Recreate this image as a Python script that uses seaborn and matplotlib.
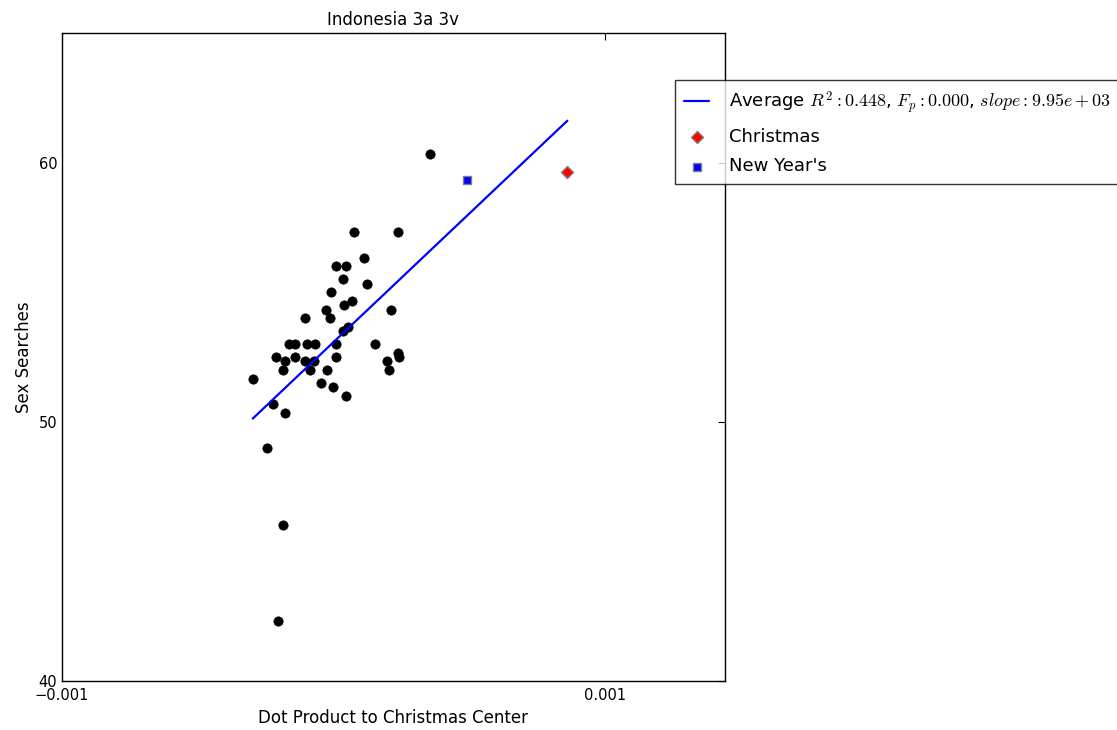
import numpy as np
import pandas as pd
import seaborn as sns
import matplotlib
matplotlib.use("Agg")
import matplotlib.pyplot as plt

sns.set_style("white")
plt.rcParams['font.family'] = ['DejaVu Sans']
plt.rcParams['mathtext.fontset'] = 'cm'
for k in ['text.color', 'axes.labelcolor', 'xtick.color', 'ytick.color']:
    plt.rcParams[k] = 'black'

# dot product to christmas center (x 1e-3) and sex searches, one point per week
dot_e3 = [0.355, 0.076, 0.238, 0.110, 0.009, 0.046, 0.036, 0.123, -0.010, 0.068,
          0.039, -0.030, 0.211, -0.104, -0.013, 0.051, 0.036, -0.165, -0.141, -0.099,
          -0.069, 0.007, 0.152, -0.212, -0.141, 0.009, 0.235, 0.240, -0.178, -0.104,
          -0.072, 0.196, -0.187, -0.089, -0.023, 0.203, -0.298, -0.045, -0.001, 0.046,
          -0.224, -0.178, -0.245, -0.186, -0.204]
searches = [60.33, 57.33, 57.33, 56.33, 56.0, 56.0, 55.5, 55.33, 55.0, 54.67,
            54.5, 54.33, 54.33, 54.0, 54.0, 53.67, 53.5, 53.0, 53.0, 53.0,
            53.0, 53.0, 53.0, 52.5, 52.5, 52.5, 52.67, 52.5, 52.33, 52.33,
            52.33, 52.33, 52.0, 52.0, 52.0, 52.0, 51.67, 51.5, 51.33, 51.0,
            50.67, 50.33, 49.0, 46.0, 42.33]

# holidays
xmas_x, xmas_y = 0.860e-3, 59.65
newyear_x, newyear_y = 0.491e-3, 59.31

fit_label = r"Average $R^2: 0.448$, $F_p: 0.000$, $slope: 9.95e+03$"

df = pd.DataFrame({"dot": np.array(dot_e3) * 1e-3, "searches": searches})

# regression over all weeks incl. holidays
all_x = np.append(df["dot"].values, [xmas_x, newyear_x])
all_y = np.append(df["searches"].values, [xmas_y, newyear_y])
slope, icpt = np.polyfit(all_x, all_y, 1)
line_x = np.array([all_x.min(), all_x.max()])
line_df = pd.DataFrame({"dot": line_x, "searches": slope * line_x + icpt})

fig = plt.figure(figsize=(11.17, 7.30), dpi=100)
ax = fig.add_axes([0.0555, 0.0671, 0.5935, 0.8877])

sns.scatterplot(data=df, x="dot", y="searches", color="black", s=45,
                edgecolor="black", linewidth=0.5, ax=ax, zorder=2)
sns.lineplot(data=line_df, x="dot", y="searches", color="blue", linewidth=1.6,
             label=fit_label, ax=ax, zorder=3)
ax.scatter([xmas_x], [xmas_y], marker="D", color="red", s=38, edgecolor="gray",
           linewidth=1, label="Christmas", zorder=4)
ax.scatter([newyear_x], [newyear_y], marker="s", color="blue", s=38, edgecolor="gray",
           linewidth=1, label="New Year's", zorder=4)

ax.set_xlim(-0.001, 0.00144)
ax.set_ylim(40, 65)
ax.set_xticks([-0.001, 0.001])
ax.set_xticklabels(["\u22120.001", "0.001"])
ax.set_yticks([40, 50, 60])
ax.tick_params(direction="in", top=True, right=True, length=5, labelsize=10.5, width=0.8)
ax.tick_params(axis="x", pad=5)
for sp in ax.spines.values():
    sp.set_color("black")
    sp.set_linewidth(1)

ax.set_title("Indonesia 3a 3v", fontsize=12)
ax.set_xlabel("Dot Product to Christmas Center", fontsize=12)
ax.set_ylabel("Sex Searches", fontsize=12)

leg = ax.legend(loc="upper left", bbox_to_anchor=(0.9246, 0.9275), fontsize=13,
                scatterpoints=1, fancybox=False, frameon=True, borderaxespad=0,
                handlelength=1.4, handletextpad=1.1, labelspacing=0.65, borderpad=0.5)
leg.get_frame().set_edgecolor("black")
leg.get_frame().set_linewidth(1)

fig.savefig("out.png", dpi=100)
